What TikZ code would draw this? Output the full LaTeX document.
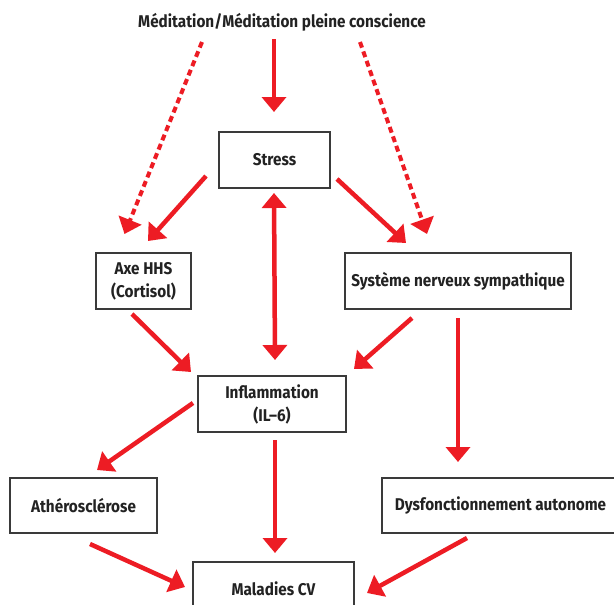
\documentclass[tikz,border=0pt]{standalone}
\usepackage{fontspec}
\setmainfont{Fira Sans}[FakeStretch=0.9]
\usetikzlibrary{arrows.meta}
\definecolor{arrred}{HTML}{ED1C24}
\definecolor{boxgray}{HTML}{3A3A3A}
\definecolor{txt}{HTML}{222222}
\begin{document}
\begin{tikzpicture}[x=1pt,y=-1pt,
  lbl/.style={inner sep=0pt,align=center,text=txt,font=\fontsize{17}{23}\selectfont\bfseries},
  box/.style={lbl,draw=boxgray,line width=1.3pt},
  arr/.style={draw=arrred,line width=4.5pt,-{Triangle[width=24pt,length=15pt]}},
  darr/.style={arr,line width=4pt,dash pattern=on 6pt off 4pt},
  dbl/.style={arr,{Triangle[width=24pt,length=15pt]}-{Triangle[width=24pt,length=15pt]}}
  ]
\clip (0,0) rectangle (614,605);
\fill[white] (0,0) rectangle (614,605);
% nodes
\node[lbl] (title) at (282,22) {Méditation/Méditation pleine conscience};
\node[box,minimum width=111pt,minimum height=56pt] (stress) at (274.5,160) {Stress};
\node[box,minimum width=95pt,minimum height=56pt] (axe) at (143.5,281) {Axe HHS\\(Cortisol)};
\node[box,minimum width=226pt,minimum height=56pt] (sns) at (458,281) {Système nerveux sympathique};
\node[box,minimum width=148pt,minimum height=56pt] (infl) at (272,404) {Inflammation\\(IL–6)};
\node[box,minimum width=147pt,minimum height=55pt] (athero) at (83.5,505.5) {Athérosclérose};
\node[box,minimum width=237pt,minimum height=55pt] (dysf) at (500.5,505.5) {Dysfonctionnement autonome};
\node[box,minimum width=161pt,minimum height=54pt] (mcv) at (273.5,589) {Maladies CV};
% arrows
\draw[arr] ([shift={(-8,17)}]title.center) -- ([shift={(-0.5,-48)}]stress.center);
\draw[darr] ([shift={(-80,20)}]title.center) -- ([shift={(-19,-47)}]axe.center);
\draw[darr] ([shift={(78,20)}]title.center) -- ([shift={(-31,-47)}]sns.center);
\draw[arr] ([shift={(-68.5,16)}]stress.center) -- ([shift={(4.5,-40)}]axe.center);
\draw[arr] ([shift={(62.5,19)}]stress.center) -- ([shift={(-52,-38)}]sns.center);
\draw[dbl] ([shift={(-0.5,33)}]stress.center) -- ([shift={(3,-44)}]infl.center);
\draw[arr] ([shift={(-11.5,33)}]axe.center) -- ([shift={(-81,-32)}]infl.center);
\draw[arr] ([shift={(-46,37)}]sns.center) -- ([shift={(82,-35)}]infl.center);
\draw[arr] ([shift={(0,37)}]sns.center) -- ([shift={(-42.5,-43.5)}]dysf.center);
\draw[arr] ([shift={(-79,-1)}]infl.center) -- ([shift={(13.5,-35.5)}]athero.center);
\draw[arr] ([shift={(3,36)}]infl.center) -- ([shift={(1.5,-36)}]mcv.center);
\draw[arr] ([shift={(6.5,38.5)}]athero.center) -- ([shift={(-88.5,-2)}]mcv.center);
\draw[arr] ([shift={(-33.5,32.5)}]dysf.center) -- ([shift={(93.5,4)}]mcv.center);
\end{tikzpicture}
\end{document}
